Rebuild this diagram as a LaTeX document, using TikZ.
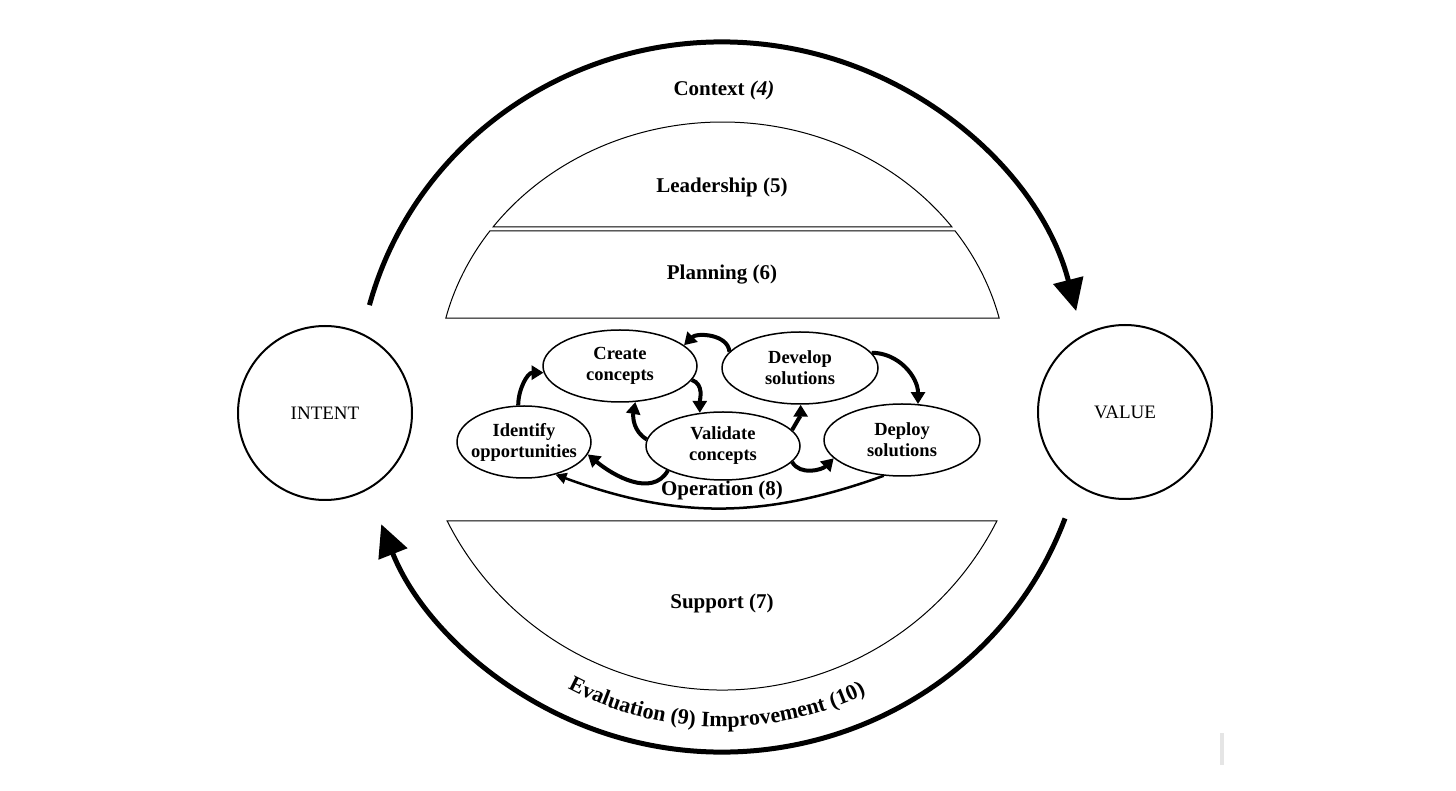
\documentclass[tikz,border=0pt]{standalone}
\usepackage{fontspec}
\setmainfont{Liberation Serif}
\usetikzlibrary{arrows.meta,shapes.geometric,calc,decorations.text}

\begin{document}
\begin{tikzpicture}[x=1pt,y=1pt,
        bigarrow/.style={line width=5pt, -{Triangle[length=32pt,width=30pt]}},
        opedge/.style={line width=4pt, -{Triangle[length=12pt,width=14pt]}},
        >=latex]
        \tikzset{
                basic/.style    = {font=\bfseries\fontsize{21}{25}\selectfont},
                segment/.style  = {draw, line width=1pt},
                endpoint/.style = {circle, draw, line width=2pt, minimum size=174pt,
                                inner sep=0pt, font=\fontsize{19}{22}\selectfont},
                activity/.style = {ellipse, draw, line width=1.5pt, align=center,
                                inner xsep=-12pt, inner ysep=-6pt,
                                minimum width=154pt, minimum height=72pt,
                                font=\bfseries\fontsize{18.5}{21}\selectfont}
        }
        \useasboundingbox (0,0) rectangle (1456,790);

        % centres of the big loop and of the two caps
        \coordinate (ctr) at (722,393);
        \coordinate (topc) at (722.5,410);
        \coordinate (botc) at (722,408);

        % the big loop, intent -> value -> intent
        \draw[bigarrow] ($(ctr)+(165:365 and 355)$) arc[start angle=165, end angle=14, x radius=365, y radius=355];
        \draw[bigarrow] ($(ctr)+(-20:365 and 355)$) arc[start angle=-20, end angle=-159, x radius=365, y radius=355];

        % leadership cap, planning band, support bowl
        \draw[segment] ($(topc)+(36.4:285 and 258)$) arc[start angle=36.4, end angle=143.6, x radius=285, y radius=258] -- cycle;
        \draw[segment] ($(topc)+(13.9:285 and 258)$) arc[start angle=13.9, end angle=35.3, x radius=285, y radius=258]
                -- ($(topc)+(144.7:285 and 258)$) arc[start angle=144.7, end angle=166.1, x radius=285, y radius=258] -- cycle;
        \draw[segment] ($(botc)+(-153.2:308)$) arc[start angle=-153.2, end angle=-26.8, radius=308] -- cycle;

        % labels of the clauses
        \node[basic] (context) at (724,700) {Context \textit{(4)}};
        \node[basic] (lead) at (722,603) {Leadership (5)};
        \node[basic] (plan) at (722,515) {Planning (6)};
        \node[basic] (oper) at (722,300) {Operation (8)};
        \node[basic] (supp) at (722,187) {Support (7)};

        % intent and value
        \node[endpoint] (intent) at (325,377) {INTENT};
        \node[endpoint] (value) at (1125,378) {VALUE};

        % the operation activities
        \node[activity, minimum width=134pt] (ident) at (524,348) {Identify\\opportunities};
        \node[activity] (create) at (620,424) {Create\\concepts};
        \node[activity, minimum height=68pt] (valid) at (723,344) {Validate\\concepts};
        \node[activity, minimum width=156pt] (develop) at (800,422) {Develop\\solutions};
        \node[activity, minimum width=156pt] (deploy) at (902,350) {Deploy\\solutions};

        % short thick arrows between the activities
        \foreach \a/\b/\o/\i in {ident.99/create.185/90/180, develop.167/create.18/95/45,
                create.-11/valid.125/-20/90, valid.175/create.-67/150/-100,
                valid.13/develop.-89/60/-90, develop.12/deploy.66/0/90,
                valid.-13/deploy.195/-60/225, valid.204/ident.-11/240/-40}
        \draw[opedge] (\a) to[out=\o,in=\i] (\b);

        % back from deployment to new opportunities
        \draw[line width=2.5pt, -{Triangle[length=11pt,width=11pt]}] (deploy.-117) to[bend left=20] (ident.-46);

        % evaluation and improvement along the lower loop
        \path[decorate, decoration={text along path, text align=center,
                text={|\bfseries\fontsize{22}{26}\selectfont|Evaluation (9) Improvement (10)}}]
                ($(ctr)+(222:330)$) arc[start angle=222, end angle=316, radius=330];

        % small grey mark
        \draw[black!10, line width=4pt] (1222,57) -- (1222,25);
\end{tikzpicture}
\end{document}
